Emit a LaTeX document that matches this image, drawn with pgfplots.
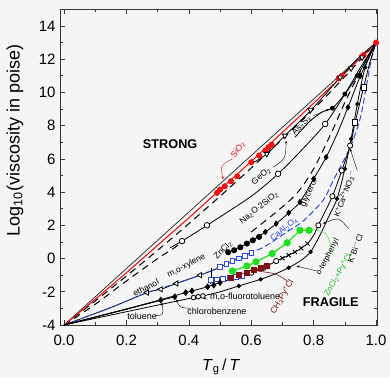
\documentclass[border=0pt]{standalone}
\usepackage{fontspec}
\setmainfont{Liberation Sans}
\usepackage{pgfplots}
\pgfplotsset{compat=1.18}
\usetikzlibrary{arrows.meta}
\definecolor{bg}{RGB}{245,245,245}
\definecolor{sio2}{RGB}{235,20,20}
\definecolor{grn}{RGB}{30,225,30}
\definecolor{dred}{RGB}{130,15,15}
\definecolor{blu}{RGB}{45,75,220}
\definecolor{frm}{RGB}{55,55,55}
\newcommand{\fs}[1]{\fontsize{#1}{#1}\selectfont}
\begin{document}
\begin{tikzpicture}
\fill[bg] (-60pt,-53pt) rectangle (330pt,325pt);
\begin{axis}[
  at={(0pt,0pt)}, anchor=south west,
  scale only axis, width=317pt, height=316pt,
  xmin=-0.013, xmax=1.003, ymin=-4, ymax=15.02,
  axis background/.style={fill=bg},
  axis line style={frm, line width=0.8pt},
  xtick={0,0.2,0.4,0.6,0.8,1.0},
  xticklabels={0.0,0.2,0.4,0.6,0.8,1.0},
  minor xtick={0.1,0.3,0.5,0.7,0.9},
  ytick={-4,-2,0,2,4,6,8,10,12,14},
  yticklabels={-4,-2,0,2,4,6,8,10,12,14},
  minor ytick={-3,-1,1,3,5,7,9,11,13},
  tick align=inside, major tick length=5pt, minor tick length=3pt,
  tick style={frm, line width=0.7pt},
  xtick pos=both, ytick pos=both,
  ticklabel style={font=\fs{15}},
  xticklabel style={yshift=-6pt},
  yticklabel style={xshift=-1pt},
  xlabel={\textit{T}\textsubscript{g}\,/\,\textit{T}},
  xlabel style={font=\fs{16}, at={(axis description cs:0.508,-0.133)}, anchor=center},
  ylabel={Log\textsubscript{10}(viscosity in poise)},
  ylabel style={font=\fs{18}, at={(axis description cs:-0.142,0.584)}, anchor=center},
  clip=false,
  every axis plot/.append style={line width=0.8pt},
]
% Arrhenius reference line
\addplot[frm, line width=0.8pt] coordinates {(0,-4) (1,13)};
% dashed fits
\addplot[black, dash pattern=on 7pt off 5pt, line width=1pt, smooth] coordinates {(0,-4) (0.1,-2.55) (0.2,-1.05) (0.3,0.5) (0.4,2.1) (0.5,3.75) (0.6,5.45) (0.7,7.2) (0.8,9.0) (0.9,10.95) (1,13)};
\addplot[black, dash pattern=on 7pt off 5pt, line width=1pt, smooth] coordinates {(0,-4) (0.1,-2.75) (0.2,-1.35) (0.3,0.0) (0.35,0.6) (0.378,1.0)};
\addplot[black, dash pattern=on 7pt off 5pt, line width=1pt, smooth] coordinates {(0.6,1.6) (0.68,2.8) (0.745,3.9) (0.8,5.4) (0.86,7.7) (0.9,9.4) (0.95,11.3) (1,13)};
% SiO2
\addplot[sio2, line width=1.1pt, smooth] coordinates {(0,-4) (0.1,-2.45) (0.2,-0.85) (0.3,0.8) (0.4,2.45) (0.5,4.15) (0.6,5.85) (0.7,7.6) (0.8,9.35) (0.9,11.15) (1,13)};
\addplot[only marks, mark=*, mark size=2.6pt, sio2, mark options={fill=sio2, draw=sio2}] coordinates {(0.49,3.95) (0.50,4.15) (0.515,4.35) (0.535,4.65) (0.555,4.95) (0.6,5.8) (0.625,6.2) (0.645,6.5) (0.655,6.7) (0.665,6.85) (0.88,10.85) (0.89,11.0) (0.955,12.15) (0.96,12.25) (1,13)};
% GeO2
\addplot[black, smooth] coordinates {(0.6,5.7) (0.65,6.3) (0.708,7.4) (0.79,8.9) (0.885,10.9) (0.94,12.0) (1,13)};
\addplot[only marks, mark=triangle*, mark size=3pt, mark options={fill=white, draw=black, rotate=180}] coordinates {(0.65,6.3) (0.708,7.4) (0.79,8.95) (0.885,10.9) (0.92,11.45) (0.955,12.1)};
% As2S3
\addplot[black, smooth] coordinates {(0.74,7.3) (0.79,8.3) (0.83,8.85) (0.86,9.05) (0.9,9.9) (0.94,11.0) (0.97,12.0) (1,13)};
\addplot[only marks, mark=*, mark size=2pt, black] coordinates {(0.86,9.05) (0.9,9.9) (0.94,11.0)};
% Na2O.2SiO2
\addplot[black, smooth] coordinates {(0.34,0.65) (0.378,1.05) (0.458,2.0) (0.6,3.75) (0.686,5.1) (0.76,6.5) (0.837,8.1) (0.9,9.9) (0.95,11.5) (1,13)};
\addplot[only marks, mark=*, mark size=2.8pt, mark options={fill=white, draw=black}] coordinates {(0.378,1.05) (0.458,2.0) (0.686,5.1) (0.837,8.1)};
% glycerol / ZnCl2
\addplot[black, smooth] coordinates {(0.52,0.3) (0.56,0.65) (0.6,1.05) (0.645,1.6) (0.68,2.1) (0.72,2.75) (0.756,3.4) (0.8,4.8) (0.84,6.1) (0.875,7.5) (0.91,9.1) (0.95,11.0) (1,13)};
\addplot[only marks, mark=*, mark size=2.6pt, black] coordinates {(0.526,0.38) (0.545,0.5) (0.565,0.68) (0.586,0.9) (0.605,1.1) (0.625,1.3)};
\addplot[only marks, mark=diamond*, mark size=2.6pt, black] coordinates {(0.645,1.6) (0.68,2.1) (0.72,2.75) (0.756,3.4) (0.8,4.8) (0.84,6.1) (0.91,9.1) (0.95,11.0)};
% ethanol / m,o-xylene + CaAl2O4
\addplot[black, smooth] coordinates {(0,-4) (0.15,-2.95) (0.266,-2.05) (0.31,-1.85) (0.36,-1.5) (0.436,-1.0) (0.49,-0.6) (0.54,-0.15) (0.6,0.35)};
\addplot[blu, dash pattern=on 6pt off 3pt, line width=1pt, smooth] coordinates {(0,-4) (0.15,-2.95) (0.266,-2.05) (0.36,-1.5) (0.436,-1.0) (0.49,-0.6) (0.54,-0.15) (0.606,0.4) (0.65,0.8) (0.714,1.6) (0.766,2.25) (0.83,3.5) (0.86,4.6) (0.917,6.7) (0.95,8.5) (0.97,10.5) (0.985,12.0) (1,13)};
\addplot[only marks, mark=triangle*, mark size=3pt, mark options={fill=white, draw=black, rotate=90}] coordinates {(0.266,-2.05) (0.31,-1.85) (0.36,-1.5) (0.436,-1.0)};
\addplot[only marks, mark=square*, mark size=2.3pt, mark options={fill=white, draw=blu}] coordinates {(0.5,-0.5) (0.52,-0.33) (0.54,-0.15) (0.56,0.0) (0.58,0.15) (0.6,0.35) (0.47,-1.3) (0.49,-1.25) (0.51,-1.22) (0.53,-1.17) (0.55,-1.1) (0.57,-1.03)};
% o-terphenyl / K+Ca2+NO3-
\addplot[black, smooth] coordinates {(0,-4) (0.2,-3.05) (0.39,-2.05) (0.45,-1.75) (0.5,-1.45) (0.55,-1.15) (0.6,-0.85) (0.65,-0.45) (0.68,-0.15) (0.72,0.2) (0.75,0.5) (0.78,0.9) (0.8,1.4) (0.82,2.2) (0.86,3.75) (0.89,5.3) (0.917,6.8) (0.933,8.2) (0.96,10.3) (0.98,11.8) (1,13)};
\addplot[only marks, mark=*, mark size=2.6pt, mark options={fill=white, draw=black}] coordinates {(0.6,-0.85) (0.64,-0.55) (0.68,-0.15) (0.815,2.0) (0.86,3.75) (0.89,5.3) (0.917,6.8)};
\addplot[only marks, mark=x, mark size=3pt, black] coordinates {(0.7,0.02) (0.72,0.2) (0.74,0.4) (0.76,0.62) (0.78,0.9)};
\addplot[only marks, mark=square*, mark size=2.6pt, mark options={fill=white, draw=black}] coordinates {(0.933,8.2) (0.96,10.3)};
\addplot[only marks, mark=diamond*, mark size=2.8pt, black] coordinates {(0.39,-2.05) (0.41,-1.95) (0.46,-1.7) (0.48,-1.6) (0.5,-1.45)};
% most fragile (m,o-fluorotoluene)
\addplot[black, smooth] coordinates {(0,-4) (0.2,-3.2) (0.415,-2.35) (0.445,-2.25) (0.5,-2.0) (0.56,-1.65) (0.63,-1.25) (0.68,-0.9) (0.72,-0.55) (0.76,-0.1) (0.79,0.4) (0.82,1.4) (0.85,2.6) (0.875,3.6) (0.9,5.4) (0.92,7.2) (0.94,9.3) (0.965,11.5) (1,13)};
\addplot[only marks, mark=*, mark size=1.8pt, black] coordinates {(0.56,-1.65) (0.63,-1.25) (0.72,-0.55) (0.79,0.4) (0.875,3.6) (0.9,5.4) (0.92,7.2) (0.94,9.3) (0.965,11.5)};
\addplot[only marks, mark=*, mark size=2.3pt, mark options={fill=white, draw=black}] coordinates {(0.415,-2.35) (0.43,-2.3) (0.445,-2.25)};
% toluene, chlorobenzene
\addplot[black] coordinates {(0,-4) (0.31,-2.5)};
\addplot[black] coordinates {(0,-4) (0.355,-2.3)};
\addplot[only marks, mark=diamond*, mark size=2.8pt, black] coordinates {(0.31,-2.5) (0.355,-2.3)};
% CH3Py+Cl-
\addplot[dred, line width=1.4pt, mark=square*, mark size=2.3pt, mark options={fill=dred, draw=dred}] coordinates {(0.535,-1.15) (0.56,-1.0) (0.585,-0.85) (0.61,-0.7) (0.63,-0.58) (0.65,-0.42)};
% ZnCl2+Py+Cl-
\addplot[grn, line width=1.2pt, mark=*, mark size=3pt, mark options={fill=grn, draw=grn}] coordinates {(0.54,-0.75) (0.586,-0.45) (0.615,-0.2) (0.667,0.3) (0.715,0.95) (0.756,1.7) (0.785,1.7)};
% labels
\node[font=\fs{12.7}\bfseries] at (axis cs:0.34,6.9) {STRONG};
\node[font=\fs{12.7}\bfseries] at (axis cs:0.855,-2.65) {FRAGILE};
\node[font=\fs{8.5}, text=sio2, rotate=55] at (axis cs:0.558,6.55) {SiO\textsubscript{2}};
\node[font=\fs{8.5}, rotate=40] at (axis cs:0.632,4.95) {GeO\textsubscript{2}};
\node[font=\fs{8.5}, rotate=45] at (axis cs:0.762,8.0) {As\textsubscript{2}S\textsubscript{3}};
\node[font=\fs{8.5}, rotate=38] at (axis cs:0.625,3.05) {Na\textsubscript{2}O$\cdot$2SiO\textsubscript{2}};
\node[font=\fs{8.5}, rotate=65] at (axis cs:0.785,3.95) {glycerol};
\node[font=\fs{8.5}, rotate=45] at (axis cs:0.51,0.5) {ZnCl\textsubscript{2}};
\node[font=\fs{8.5}, text=blu, rotate=40] at (axis cs:0.705,1.75) {CaAl\textsubscript{2}O\textsubscript{4}};
\node[font=\fs{8}, rotate=70] at (axis cs:0.9,3.9) {K\textsuperscript{+}Ca\textsuperscript{2+}NO\textsubscript{3}\textsuperscript{$-$}};
\node[font=\fs{8}, rotate=70] at (axis cs:0.932,0.6) {K\textsuperscript{+}Bi\textsuperscript{$-$}Cl};
\node[font=\fs{8}, rotate=62] at (axis cs:0.845,0.1) {o-terphenyl};
\node[font=\fs{8}, text=grn!80!black, rotate=60] at (axis cs:0.878,-1.0) {ZnCl\textsubscript{2}+Py\textsuperscript{+}Cl};
\node[font=\fs{8.5}, text=dred, rotate=60] at (axis cs:0.70,-2.3) {CH\textsubscript{3}Py\textsuperscript{+}Cl};
\node[font=\fs{8.5}, rotate=27] at (axis cs:0.392,-0.45) {m,o-xylene};
\node[font=\fs{8.5}, rotate=27] at (axis cs:0.262,-1.75) {ethanol};
\node[font=\fs{9}] at (axis cs:0.58,-2.3) {m,o-fluorotoluene};
\node[font=\fs{9}] at (axis cs:0.49,-3.2) {chlorobenzene};
\node[font=\fs{9}] at (axis cs:0.25,-3.5) {toluene};
% annotation arrows
\draw[sio2, line width=0.4pt, -{Stealth[length=3pt]}] (axis cs:0.54,6.0) .. controls (axis cs:0.5,5.6) .. (axis cs:0.51,4.75);
\draw[line width=0.4pt, -{Stealth[length=3pt]}] (axis cs:0.67,5.5) .. controls (axis cs:0.71,6.0) .. (axis cs:0.712,7.1);
\draw[line width=0.4pt, -{Stealth[length=3pt]}] (axis cs:0.8,8.6) -- (axis cs:0.85,9.0);
\draw[line width=0.4pt, -{Stealth[length=3pt]}] (axis cs:0.94,5.3) -- (axis cs:0.917,6.6);
\draw[line width=0.4pt, -{Stealth[length=3pt]}] (axis cs:0.912,1.8) .. controls (axis cs:0.88,2.5) .. (axis cs:0.83,2.1);
\draw[line width=0.4pt, -{Stealth[length=3pt]}] (axis cs:0.81,-0.75) -- (axis cs:0.745,-0.45);
\draw[grn, line width=0.4pt] (axis cs:0.86,0.25) .. controls (axis cs:0.845,1.6) .. (axis cs:0.795,1.75);
\draw[dred, line width=0.6pt] (axis cs:0.715,-1.35) .. controls (axis cs:0.68,-0.9) .. (axis cs:0.62,-0.75);
\draw[line width=0.4pt, -{Stealth[length=3pt]}] (axis cs:0.47,-0.55) -- (axis cs:0.47,-1.55);
\draw[line width=0.4pt, -{Stealth[length=3pt]}] (axis cs:0.29,-3.45) .. controls (axis cs:0.32,-3.4) .. (axis cs:0.313,-2.65);
\draw[line width=0.4pt, -{Stealth[length=3pt]}] (axis cs:0.405,-3.0) .. controls (axis cs:0.37,-2.95) .. (axis cs:0.36,-2.45);
\draw[line width=0.4pt, -{Stealth[length=3pt]}] (axis cs:0.46,-2.45) -- (axis cs:0.445,-2.35);
\end{axis}
\pgfresetboundingbox
\useasboundingbox (-60pt,-53pt) rectangle (330pt,325pt);
\end{tikzpicture}
\end{document}
